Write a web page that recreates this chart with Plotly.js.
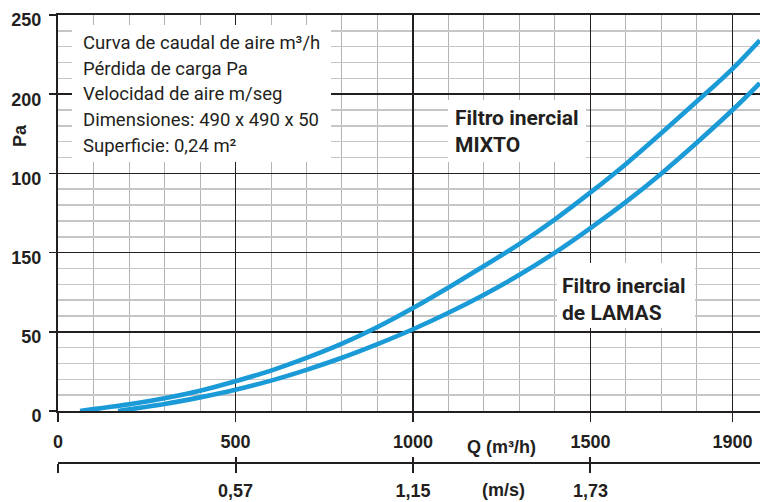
<!DOCTYPE html>
<html>
<head>
<meta charset="utf-8">
<script src="https://cdn.plot.ly/plotly-3.0.1.min.js"></script>
<style>
  html, body { margin: 0; padding: 0; background: #fff; }
  #chart { width: 760px; height: 502px; }
</style>
</head>
<body>
<div id="chart"></div>
<script>
// ---- data ----
const qMixto  = [62, 200, 300, 400, 500, 600, 700, 800, 900, 1000, 1100, 1200, 1300, 1400, 1500, 1600, 1700, 1800, 1900, 1977];
const paMixto = [0, 4.2, 8, 12.8, 18.8, 25.5, 33.5, 42.5, 53, 65, 78, 91.5, 105.5, 121, 138, 156, 175.5, 195.5, 216, 234];

const qLamas  = [169, 300, 400, 500, 600, 700, 800, 900, 1000, 1100, 1200, 1300, 1400, 1500, 1600, 1700, 1800, 1900, 1977];
const paLamas = [0, 4.4, 8.6, 13.4, 19.2, 26, 33.6, 42.2, 51.6, 62, 73.4, 86, 100, 115.5, 132, 150, 169.5, 190, 207];

const qTickVals   = [0, 500, 1000, 1500, 1900];
const qTickText   = ['0', '500', '1000', '1500', '1900'];
const paTickVals  = [0, 50, 100, 150, 200, 250];
const paTickText  = ['0', '50', '150', '100', '200', '250'];
const velTickVals = [0, 500, 1000, 1500];
const velTickText = ['', '0,57', '1,15', '1,73'];

const infoLines  = ['Curva de caudal de aire m³/h', 'Pérdida de carga Pa', 'Velocidad de aire m/seg',
                    'Dimensiones: 490 x 490 x 50', 'Superficie: 0,24 m²'];
const mixtoLines = ['Filtro inercial', 'MIXTO'];
const lamasLines = ['Filtro inercial', 'de LAMAS'];

// ---- layout geometry (pixels) ----
const W = 760, H = 502;
const M = {l: 58, r: 0, t: 15, b: 39};
const plotW = W - M.l - M.r, plotH = H - M.t - M.b;
const plotBottomPx = 411;
const yDomLow = (H - M.b - plotBottomPx) / plotH;
const px = v => (v - M.l) / plotW;
const py = v => (H - M.b - v) / plotH;

const INK = '#231f20';
const BLUE = '#1a9ad6';
const NUM = {family: 'Liberation Sans, Arial, sans-serif', size: 18, color: INK, weight: 'bold'};
const LABEL = 'Roboto, Liberation Sans, sans-serif';
const xRange = [0, 1977.5];

const traces = [
  {x: qMixto, y: paMixto, mode: 'lines', line: {color: BLUE, width: 4.6, shape: 'spline', smoothing: 1},
   cliponaxis: false, hoverinfo: 'skip', name: 'MIXTO'},
  {x: qLamas, y: paLamas, mode: 'lines', line: {color: BLUE, width: 4.6, shape: 'spline', smoothing: 1},
   cliponaxis: false, hoverinfo: 'skip', name: 'LAMAS'},
  {x: [], y: [], xaxis: 'x2', yaxis: 'y', hoverinfo: 'skip'},
  {x: [], y: [], xaxis: 'x3', yaxis: 'y', hoverinfo: 'skip'}
];

const boxes = [[72, 331, 25, 162], [448, 586, 100, 162], [557, 695, 263, 328]].map(b => ({
  type: 'rect', xref: 'paper', yref: 'paper', layer: 'above',
  x0: px(b[0]), x1: px(b[1]), y0: py(b[3]), y1: py(b[2]),
  fillcolor: '#ffffff', line: {width: 0}
}));

const ann = [];
const infoY = [43, 68.5, 94, 120, 146];
infoLines.forEach((t, i) => ann.push({text: t, xref: 'paper', yref: 'paper', x: px(82), y: py(infoY[i]),
  xanchor: 'left', yanchor: 'middle', showarrow: false, borderpad: 0,
  font: {family: LABEL, size: 18.5, color: INK}}));
const mixY = [118, 145];
mixtoLines.forEach((t, i) => ann.push({text: t, xref: 'paper', yref: 'paper', x: px(454), y: py(mixY[i]),
  xanchor: 'left', yanchor: 'middle', showarrow: false, borderpad: 0,
  font: {family: LABEL, size: 21, color: INK, weight: 'bold'}}));
const lamY = [286, 313];
lamasLines.forEach((t, i) => ann.push({text: t, xref: 'paper', yref: 'paper', x: px(561), y: py(lamY[i]),
  xanchor: 'left', yanchor: 'middle', showarrow: false, borderpad: 0,
  font: {family: LABEL, size: 21, color: INK, weight: 'bold'}}));
ann.push({text: 'Pa', xref: 'paper', yref: 'paper', x: px(20), y: py(136), textangle: -90,
  xanchor: 'center', yanchor: 'middle', showarrow: false, font: NUM});
ann.push({text: 'Q (m³/h)', xref: 'paper', yref: 'paper', x: px(501), y: py(447),
  xanchor: 'center', yanchor: 'middle', showarrow: false, font: NUM});
ann.push({text: '(m/s)', xref: 'paper', yref: 'paper', x: px(503), y: py(490),
  xanchor: 'center', yanchor: 'middle', showarrow: false, font: NUM});

const layout = {
  width: W, height: H, margin: {l: M.l, r: M.r, t: M.t, b: M.b, pad: 0},
  paper_bgcolor: '#ffffff', plot_bgcolor: '#ffffff', showlegend: false,
  font: {family: 'Liberation Sans, Arial, sans-serif', color: INK},
  xaxis: {
    range: xRange, tickmode: 'array', tickvals: qTickVals, ticktext: qTickText,
    showgrid: true, gridcolor: INK, gridwidth: 1.6, zeroline: false,
    showline: true, linecolor: INK, linewidth: 2, mirror: true,
    ticks: 'outside', ticklen: 9, tickwidth: 1.6, tickcolor: INK,
    tickfont: NUM, ticklabelstandoff: 4, fixedrange: true,
    minor: {tickmode: 'linear', tick0: 0, dtick: 100, showgrid: true, gridcolor: '#b3b3b3', gridwidth: 1, ticks: ''}
  },
  xaxis2: {
    overlaying: 'x', anchor: 'free', position: 0, side: 'bottom',
    range: xRange, tickmode: 'array', tickvals: velTickVals, ticktext: velTickText,
    showgrid: false, zeroline: false, showline: true, linecolor: INK, linewidth: 2,
    ticks: 'outside', ticklen: 9, tickwidth: 2, tickcolor: INK,
    tickfont: NUM, ticklabelstandoff: 2, fixedrange: true
  },
  xaxis3: {
    overlaying: 'x', anchor: 'free', position: 0, side: 'bottom',
    range: xRange, tickmode: 'array', tickvals: velTickVals, ticktext: ['', '', '', ''],
    showgrid: false, zeroline: false, showline: false,
    ticks: 'inside', ticklen: 6, tickwidth: 2, tickcolor: INK, showticklabels: false, fixedrange: true
  },
  yaxis: {
    domain: [yDomLow, 1], range: [0, 250], tickmode: 'array', tickvals: paTickVals, ticktext: paTickText,
    showgrid: true, gridcolor: INK, gridwidth: 1.6, zeroline: false,
    showline: true, linecolor: INK, linewidth: 2,
    ticks: 'outside', ticklen: 7, tickwidth: 1.6, tickcolor: INK,
    tickfont: NUM, ticklabelstandoff: 4, ticklabelshift: 5, fixedrange: true,
    minor: {tickmode: 'linear', tick0: 0, dtick: 10, showgrid: true, gridcolor: '#c6c6c6', gridwidth: 1.5, ticks: ''}
  },
  shapes: boxes,
  annotations: ann
};

Plotly.newPlot('chart', traces, layout, {displayModeBar: false, staticPlot: true});
</script>
</body>
</html>
